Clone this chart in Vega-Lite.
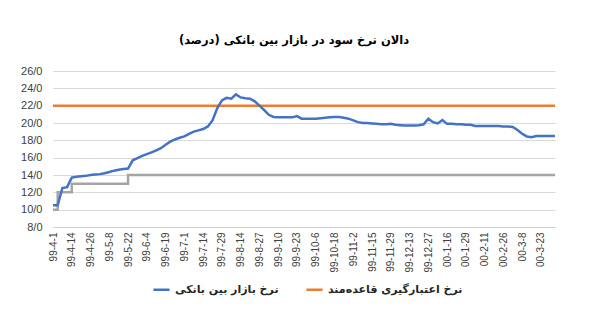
{
  "$schema": "https://vega.github.io/schema/vega-lite/v6.json",
  "width": 502,
  "height": 156,
  "autosize": {"type": "none"},
  "padding": {"left": 53, "top": 71, "right": 45, "bottom": 98},
  "background": "white",
  "title": {
    "text": "دالان نرخ سود در بازار بین بانکی (درصد)",
    "font": "DejaVu Sans",
    "fontSize": 11.5,
    "fontWeight": "bold",
    "color": "#000000",
    "anchor": "middle",
    "offset": 19,
    "dx": -10
  },
  "data": {
    "values": [
      {"d": "99-4-1", "m": 10.5, "g": 10},
      {"d": "99-4-4", "m": 10.5, "g": 12},
      {"d": "99-4-7", "m": 12.5, "g": 12},
      {"d": "99-4-10", "m": 12.6, "g": 12},
      {"d": "99-4-14", "m": 13.7, "g": 13},
      {"d": "99-4-17", "m": 13.8, "g": 13},
      {"d": "99-4-20", "m": 13.85, "g": 13},
      {"d": "99-4-23", "m": 13.9, "g": 13},
      {"d": "99-4-26", "m": 14.0, "g": 13},
      {"d": "99-4-29", "m": 14.05, "g": 13},
      {"d": "99-5-1", "m": 14.1, "g": 13},
      {"d": "99-5-5", "m": 14.2, "g": 13},
      {"d": "99-5-8", "m": 14.35, "g": 13},
      {"d": "99-5-11", "m": 14.5, "g": 13},
      {"d": "99-5-14", "m": 14.6, "g": 13},
      {"d": "99-5-18", "m": 14.7, "g": 13},
      {"d": "99-5-22", "m": 14.75, "g": 14},
      {"d": "99-5-25", "m": 15.7, "g": 14},
      {"d": "99-5-28", "m": 15.95, "g": 14},
      {"d": "99-6-1", "m": 16.2, "g": 14},
      {"d": "99-6-4", "m": 16.4, "g": 14},
      {"d": "99-6-8", "m": 16.6, "g": 14},
      {"d": "99-6-11", "m": 16.85, "g": 14},
      {"d": "99-6-15", "m": 17.1, "g": 14},
      {"d": "99-6-19", "m": 17.5, "g": 14},
      {"d": "99-6-22", "m": 17.85, "g": 14},
      {"d": "99-6-25", "m": 18.1, "g": 14},
      {"d": "99-6-29", "m": 18.3, "g": 14},
      {"d": "99-7-1", "m": 18.45, "g": 14},
      {"d": "99-7-5", "m": 18.75, "g": 14},
      {"d": "99-7-8", "m": 19.0, "g": 14},
      {"d": "99-7-11", "m": 19.15, "g": 14},
      {"d": "99-7-14", "m": 19.3, "g": 14},
      {"d": "99-7-18", "m": 19.6, "g": 14},
      {"d": "99-7-21", "m": 20.3, "g": 14},
      {"d": "99-7-25", "m": 21.7, "g": 14},
      {"d": "99-7-29", "m": 22.6, "g": 14},
      {"d": "99-8-2", "m": 22.9, "g": 14},
      {"d": "99-8-6", "m": 22.8, "g": 14},
      {"d": "99-8-10", "m": 23.3, "g": 14},
      {"d": "99-8-14", "m": 22.95, "g": 14},
      {"d": "99-8-17", "m": 22.85, "g": 14},
      {"d": "99-8-20", "m": 22.8, "g": 14},
      {"d": "99-8-24", "m": 22.5, "g": 14},
      {"d": "99-8-27", "m": 22.0, "g": 14},
      {"d": "99-8-30", "m": 21.5, "g": 14},
      {"d": "99-9-3", "m": 20.95, "g": 14},
      {"d": "99-9-7", "m": 20.7, "g": 14},
      {"d": "99-9-10", "m": 20.65, "g": 14},
      {"d": "99-9-14", "m": 20.65, "g": 14},
      {"d": "99-9-17", "m": 20.65, "g": 14},
      {"d": "99-9-20", "m": 20.65, "g": 14},
      {"d": "99-9-23", "m": 20.8, "g": 14},
      {"d": "99-9-26", "m": 20.5, "g": 14},
      {"d": "99-9-29", "m": 20.5, "g": 14},
      {"d": "99-10-2", "m": 20.5, "g": 14},
      {"d": "99-10-6", "m": 20.5, "g": 14},
      {"d": "99-10-9", "m": 20.55, "g": 14},
      {"d": "99-10-12", "m": 20.6, "g": 14},
      {"d": "99-10-15", "m": 20.65, "g": 14},
      {"d": "99-10-18", "m": 20.7, "g": 14},
      {"d": "99-10-22", "m": 20.7, "g": 14},
      {"d": "99-10-25", "m": 20.6, "g": 14},
      {"d": "99-10-29", "m": 20.5, "g": 14},
      {"d": "99-11-2", "m": 20.3, "g": 14},
      {"d": "99-11-5", "m": 20.1, "g": 14},
      {"d": "99-11-8", "m": 20.0, "g": 14},
      {"d": "99-11-12", "m": 20.0, "g": 14},
      {"d": "99-11-15", "m": 19.95, "g": 14},
      {"d": "99-11-19", "m": 19.9, "g": 14},
      {"d": "99-11-22", "m": 19.85, "g": 14},
      {"d": "99-11-26", "m": 19.85, "g": 14},
      {"d": "99-11-29", "m": 19.9, "g": 14},
      {"d": "99-12-3", "m": 19.8, "g": 14},
      {"d": "99-12-6", "m": 19.75, "g": 14},
      {"d": "99-12-10", "m": 19.7, "g": 14},
      {"d": "99-12-13", "m": 19.7, "g": 14},
      {"d": "99-12-17", "m": 19.7, "g": 14},
      {"d": "99-12-20", "m": 19.75, "g": 14},
      {"d": "99-12-24", "m": 19.85, "g": 14},
      {"d": "99-12-27", "m": 20.5, "g": 14},
      {"d": "99-12-30", "m": 20.1, "g": 14},
      {"d": "00-1-6", "m": 19.95, "g": 14},
      {"d": "00-1-11", "m": 20.35, "g": 14},
      {"d": "00-1-16", "m": 19.9, "g": 14},
      {"d": "00-1-19", "m": 19.9, "g": 14},
      {"d": "00-1-22", "m": 19.85, "g": 14},
      {"d": "00-1-26", "m": 19.85, "g": 14},
      {"d": "00-1-29", "m": 19.8, "g": 14},
      {"d": "00-2-1", "m": 19.8, "g": 14},
      {"d": "00-2-4", "m": 19.65, "g": 14},
      {"d": "00-2-8", "m": 19.65, "g": 14},
      {"d": "00-2-11", "m": 19.65, "g": 14},
      {"d": "00-2-15", "m": 19.65, "g": 14},
      {"d": "00-2-18", "m": 19.65, "g": 14},
      {"d": "00-2-22", "m": 19.65, "g": 14},
      {"d": "00-2-26", "m": 19.6, "g": 14},
      {"d": "00-2-29", "m": 19.6, "g": 14},
      {"d": "00-3-1", "m": 19.55, "g": 14},
      {"d": "00-3-5", "m": 19.2, "g": 14},
      {"d": "00-3-8", "m": 18.75, "g": 14},
      {"d": "00-3-12", "m": 18.45, "g": 14},
      {"d": "00-3-15", "m": 18.35, "g": 14},
      {"d": "00-3-19", "m": 18.5, "g": 14},
      {"d": "00-3-23", "m": 18.5, "g": 14},
      {"d": "00-3-26", "m": 18.5, "g": 14},
      {"d": "00-3-29", "m": 18.5, "g": 14},
      {"d": "00-3-31", "m": 18.5, "g": 14}
    ]
  },
  "encoding": {
    "x": {
      "field": "d",
      "type": "ordinal",
      "sort": null,
      "scale": {"type": "point", "padding": 0},
      "axis": {
        "title": null,
        "labelExpr": "indexof(['99-4-1','99-4-14','99-4-26','99-5-8','99-5-22','99-6-4','99-6-19','99-7-1','99-7-14','99-7-29','99-8-14','99-8-27','99-9-10','99-9-23','99-10-6','99-10-18','99-11-2','99-11-15','99-11-29','99-12-13','99-12-27','00-1-16','00-1-29','00-2-11','00-2-26','00-3-8','00-3-23'], datum.value) >= 0 ? datum.label : ''",
        "labelAngle": -90,
        "labelFont": "Liberation Sans",
        "labelFontSize": 10,
        "labelColor": "#404040",
        "labelPadding": 5,
        "labelOverlap": false,
        "labelBound": false,
        "labelFlush": false,
        "ticks": false,
        "grid": false,
        "domain": true,
        "domainColor": "#D0D0D0",
        "domainWidth": 1
      }
    },
    "y": {
      "type": "quantitative",
      "scale": {"domain": [8, 26], "nice": false, "zero": false},
      "axis": {
        "title": null,
        "values": [8, 10, 12, 14, 16, 18, 20, 22, 24, 26],
        "labelExpr": "replace(format(datum.value, '.1f'), '.', '/')",
        "labelFont": "Liberation Sans",
        "labelFontSize": 11,
        "labelColor": "#404040",
        "labelPadding": 11,
        "labelOverlap": false,
        "labelFlush": false,
        "labelBound": false,
        "ticks": false,
        "domain": false,
        "grid": true,
        "gridColor": "#D9D9D9",
        "gridOpacity": 1,
        "gridWidth": 1
      }
    }
  },
  "layer": [
    {
      "mark": {"type": "line", "color": "#A5A5A5", "strokeWidth": 2.5, "interpolate": "step-after"},
      "encoding": {
        "y": {"field": "g", "type": "quantitative"}
      }
    },
    {
      "mark": {"type": "line", "strokeWidth": 2.5},
      "encoding": {
        "y": {"datum": 22, "type": "quantitative"},
        "color": {"datum": "نرخ اعتبارگیری قاعده‌مند"}
      }
    },
    {
      "mark": {"type": "line", "strokeWidth": 2.5},
      "encoding": {
        "y": {"field": "m", "type": "quantitative"},
        "color": {
          "datum": "نرخ بازار بین بانکی",
          "scale": {
            "domain": ["نرخ بازار بین بانکی", "نرخ اعتبارگیری قاعده‌مند"],
            "range": ["#4472C4", "#ED7D31"]
          },
          "legend": {
            "title": null,
            "orient": "none",
            "legendX": 99,
            "legendY": 209,
            "direction": "horizontal",
            "symbolType": "stroke",
            "symbolStrokeWidth": 2.5,
            "symbolSize": 260,
            "labelFont": "DejaVu Sans",
            "labelFontSize": 11,
            "labelFontWeight": "bold",
            "labelColor": "#262626",
            "labelOffset": 4,
            "columnPadding": 22
          }
        }
      }
    }
  ],
  "config": {
    "view": {"stroke": null}
  }
}
